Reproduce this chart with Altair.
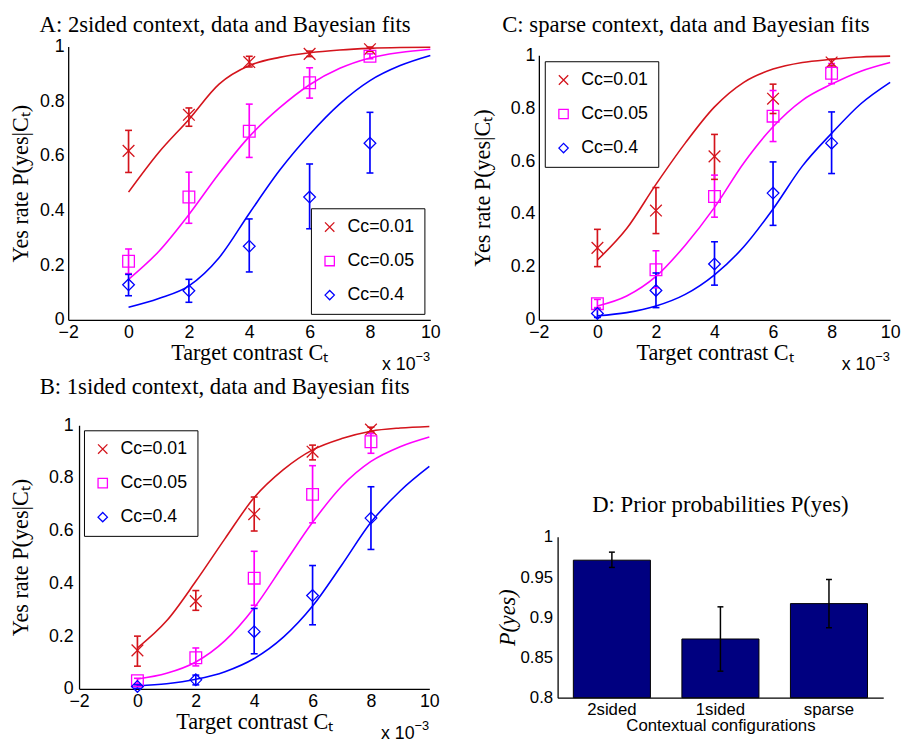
import altair as alt
import pandas as pd

# ---------------- data ----------------
CT = [0, 2, 4, 6, 8]                       # target contrast (x 10^-3)
FIT_CT = [0, 1, 2, 3, 4, 5, 6, 7, 8, 9, 10]
SERIES = ["Cc=0.01", "Cc=0.05", "Cc=0.4"]
COLORS = ["#d4141c", "#ff00ff", "#0000ff"]
SHAPES = ["M-1,-1L1,1M1,-1L-1,1", "square", "diamond"]

# Panel A: 2sided
A_MEAN = [[0.618, 0.750, 0.943, 0.973, 0.990],
          [0.214, 0.449, 0.690, 0.867, 0.964],
          [0.128, 0.106, 0.269, 0.449, 0.646]]
A_LO = [[0.539, 0.708, 0.925, 0.963, 0.982],
        [0.169, 0.353, 0.594, 0.811, 0.955],
        [0.088, 0.064, 0.175, 0.333, 0.537]]
A_HI = [[0.693, 0.775, 0.964, 0.983, 0.998],
        [0.259, 0.540, 0.789, 0.922, 0.973],
        [0.166, 0.148, 0.369, 0.570, 0.759]]
A_FIT = [[0.467, 0.612, 0.733, 0.862, 0.930, 0.960, 0.977, 0.987, 0.993, 0.996, 0.997],
         [0.148, 0.250, 0.385, 0.535, 0.670, 0.775, 0.860, 0.920, 0.958, 0.978, 0.990],
         [0.046, 0.078, 0.124, 0.227, 0.389, 0.546, 0.678, 0.790, 0.875, 0.930, 0.967]]

# Panel B: 1sided
B_MEAN = [[0.146, 0.333, 0.663, 0.900, 0.984],
          [0.031, 0.118, 0.420, 0.738, 0.938],
          [0.009, 0.034, 0.217, 0.354, 0.648]]
B_LO = [[0.086, 0.298, 0.599, 0.869, 0.975],
        [0.019, 0.087, 0.317, 0.630, 0.894],
        [0.002, 0.015, 0.133, 0.243, 0.529]]
B_HI = [[0.200, 0.373, 0.728, 0.925, 0.993],
        [0.040, 0.155, 0.522, 0.847, 0.969],
        [0.015, 0.052, 0.305, 0.468, 0.767]]
B_FIT = [[0.155, 0.258, 0.408, 0.570, 0.726, 0.832, 0.907, 0.950, 0.978, 0.990, 0.996],
         [0.037, 0.059, 0.102, 0.183, 0.308, 0.470, 0.632, 0.769, 0.863, 0.919, 0.956],
         [0.011, 0.019, 0.036, 0.065, 0.115, 0.196, 0.314, 0.470, 0.632, 0.751, 0.844]]

# Panel C: sparse
C_MEAN = [[0.272, 0.413, 0.618, 0.836, 0.973],
          [0.061, 0.189, 0.466, 0.770, 0.932],
          [0.024, 0.111, 0.211, 0.479, 0.668]]
C_LO = [[0.201, 0.326, 0.531, 0.780, 0.960],
        [0.046, 0.121, 0.388, 0.674, 0.893],
        [0.009, 0.046, 0.131, 0.357, 0.553]]
C_HI = [[0.342, 0.500, 0.701, 0.891, 0.985],
        [0.077, 0.261, 0.547, 0.867, 0.969],
        [0.040, 0.177, 0.295, 0.597, 0.786]]
C_FIT = [[0.226, 0.345, 0.512, 0.668, 0.805, 0.898, 0.948, 0.973, 0.985, 0.994, 0.997],
         [0.052, 0.090, 0.164, 0.282, 0.425, 0.593, 0.730, 0.830, 0.891, 0.940, 0.973],
         [0.015, 0.027, 0.052, 0.096, 0.170, 0.276, 0.419, 0.581, 0.705, 0.817, 0.898]]

# Panel D: prior probabilities
D_CONFIG = ["2sided", "1sided", "sparse"]
D_PRIOR = [0.971, 0.873, 0.917]
D_LO = [0.962, 0.833, 0.887]
D_HI = [0.981, 0.913, 0.947]

X_TICKS = [-2, 0, 2, 4, 6, 8, 10]
Y_TICKS = [0, 0.2, 0.4, 0.6, 0.8, 1]
D_TICKS = [0.8, 0.85, 0.9, 0.95, 1]

CAP = "M-1,0L1,0"


def points_frame(mean, lo, hi):
    rows = []
    for s, m, l, h in zip(SERIES, mean, lo, hi):
        for x, mv, lv, hv in zip(CT, m, l, h):
            rows.append({"series": s, "ct": x, "p": mv, "lo": lv, "hi": hv})
    return pd.DataFrame(rows)


def fit_frame(fits):
    rows = []
    for s, f in zip(SERIES, fits):
        for x, v in zip(FIT_CT, f):
            rows.append({"series": s, "ct": x, "p": v})
    return pd.DataFrame(rows)


def panel(title, mean, lo, hi, fits, w, h, legend_orient, legend_offset,
          y_title_pad, title_offset, label_pad=4):
    pts = points_frame(mean, lo, hi)
    fit = fit_frame(fits)
    xs = alt.Scale(domain=[-2, 10], nice=False)
    ys = alt.Scale(domain=[0, 1], nice=False)
    xax = alt.Axis(values=X_TICKS, title="Target contrast Cₜ", titlePadding=0)
    yax = alt.Axis(values=Y_TICKS, format="~g", title="Yes rate P(yes|Cₜ)",
                   titlePadding=y_title_pad, labelPadding=label_pad)
    cscale = alt.Scale(domain=SERIES, range=COLORS)
    sscale = alt.Scale(domain=SERIES, range=SHAPES)
    X = alt.X("ct:Q", scale=xs, axis=xax)
    leg = alt.Legend(orient=legend_orient, offset=legend_offset)
    CO = alt.Color("series:N", scale=cscale, title=None, legend=leg)

    layers = [
        alt.Chart(fit).mark_line(strokeWidth=1.6, interpolate="monotone").encode(
            x=X, y=alt.Y("p:Q", scale=ys, axis=yax), color=CO, detail="series:N"),
        alt.Chart(pts).mark_rule(strokeWidth=1.7).encode(
            x=X, y=alt.Y("lo:Q", scale=ys, axis=yax), y2="hi:Q", color=CO),
    ]
    for f in ["lo", "hi"]:
        layers.append(alt.Chart(pts).mark_point(shape=CAP, size=49, strokeWidth=1.6,
                                                filled=False, opacity=1).encode(
            x=X, y=alt.Y(f + ":Q", scale=ys, axis=yax), color=CO))
    layers.append(alt.Chart(pts).mark_point(filled=False, size=140, strokeWidth=1.3,
                                            opacity=1).encode(
        x=X, y=alt.Y("p:Q", scale=ys, axis=yax), color=CO,
        shape=alt.Shape("series:N", scale=sscale, title=None, legend=leg)))
    note = pd.DataFrame({"t": ["x 10"], "e": ["−3"]})
    layers.append(alt.Chart(note).mark_text(align="right", baseline="alphabetic", fontSize=18,
                                            font="Liberation Sans", dx=-15).encode(
        x=alt.datum(10), y=alt.value(h + 51), text="t:N"))
    layers.append(alt.Chart(note).mark_text(align="left", baseline="alphabetic", fontSize=13,
                                            font="Liberation Sans", dx=-15, dy=-9).encode(
        x=alt.datum(10), y=alt.value(h + 51), text="e:N"))
    return alt.layer(*layers).properties(
        width=w, height=h,
        title=alt.TitleParams(title, offset=title_offset, frame="bounds"))


def independent(c):
    return c.resolve_scale(color="independent", shape="independent").resolve_legend(
        color="independent", shape="independent")


def spacer(w, h):
    return alt.Chart(pd.DataFrame({"v": [0]})).mark_point(size=0, opacity=0).encode(
        x=alt.X("v:Q", axis=None), y=alt.Y("v:Q", axis=None)).properties(width=w, height=h)


def wrap(p, sw, sh=1):
    inner = independent(alt.hconcat(spacer(sw, 1), p, spacing=0))
    return independent(alt.vconcat(spacer(1, sh), inner, spacing=0))


A = panel("A: 2sided context, data and Bayesian fits", A_MEAN, A_LO, A_HI, A_FIT,
          367, 277, "bottom-right", 6, 7, 1)
B = panel("B: 1sided context, data and Bayesian fits", B_MEAN, B_LO, B_HI, B_FIT,
          355, 267, "top-left", 5, 16, 18, label_pad=6)
C = panel("C: sparse context, data and Bayesian fits", C_MEAN, C_LO, C_HI, C_FIT,
          356, 268, "top-left", 6, 16, 10)

dd = pd.DataFrame({"cfg": D_CONFIG, "p": D_PRIOR, "lo": D_LO, "hi": D_HI})
dx = alt.X("cfg:N", sort=D_CONFIG,
           scale=alt.Scale(paddingInner=0.29, paddingOuter=0.145),
           axis=alt.Axis(labelAngle=0, title="Contextual configurations", labelFontSize=17,
                         titleFont="Liberation Sans", titleFontSize=17, titlePadding=0,
                         labelPadding=4))
dys = alt.Scale(domain=[0.8, 1], nice=False, zero=False)
dyax = alt.Axis(values=D_TICKS, format="~g", title="P(yes)", titleFontStyle="italic",
                labelFontSize=17, titlePadding=1, labelPadding=5)
d_bars = alt.Chart(dd).mark_bar(color="#000080", stroke="black", strokeWidth=1).encode(
    x=dx, y=alt.Y("p:Q", scale=dys, axis=dyax), y2=alt.datum(0.8))
d_err = alt.Chart(dd).mark_rule(color="black", strokeWidth=1.5).encode(
    x=dx, y=alt.Y("lo:Q", scale=dys, axis=dyax), y2="hi:Q")
d_caps = [alt.Chart(dd).mark_point(shape=CAP, size=36, color="black", strokeWidth=1.5,
                                   filled=False, opacity=1).encode(
    x=dx, y=alt.Y(f + ":Q", scale=dys, axis=dyax)) for f in ["lo", "hi"]]
D = alt.layer(d_bars, d_err, *d_caps).properties(
    width=330, height=163,
    title=alt.TitleParams("D: Prior probabilities P(yes)", offset=11, frame="group"))

col1 = independent(alt.vconcat(wrap(A, 1), wrap(B, 1), spacing=1))
col2 = independent(alt.vconcat(wrap(C, 1), wrap(D, 26), spacing=121))

chart = independent(alt.hconcat(col1, col2, spacing=29)).properties(padding=0)

chart = chart.configure_view(stroke=None).configure_axis(
    grid=False, ticks=False, domainColor="black", domainWidth=1.3,
    labelColor="black", labelFont="Liberation Sans", labelFontSize=18,
    labelPadding=4, labelFlush=False,
    titleFont="Liberation Serif", titleFontSize=22.5, titleFontWeight="normal",
    titleColor="black"
).configure_title(
    font="Liberation Serif", fontSize=23, fontWeight="normal", color="black",
    anchor="middle"
).configure_legend(
    strokeColor="black", fillColor="white", padding=10,
    labelFont="Liberation Sans", labelFontSize=18, labelColor="black",
    rowPadding=16.5, symbolStrokeWidth=1.3, symbolSize=90, labelOffset=9
)

chart.save("out.html", embed_options={"renderer": "svg", "actions": False})
